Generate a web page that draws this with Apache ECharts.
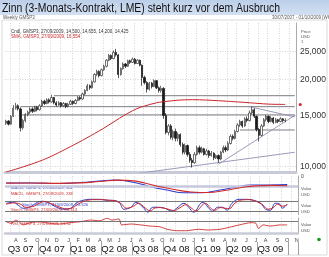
<!DOCTYPE html>
<html><head><meta charset="utf-8">
<script src="https://cdn.jsdelivr.net/npm/echarts@6/dist/echarts.min.js"></script>
<style>html,body{margin:0;padding:0;background:#fff;overflow:hidden}#c{width:329px;height:257px}</style>
</head><body><div id="c"></div>
<script>
// ---------- DATA ----------
const titleText = 'Zinn (3-Monats-Kontrakt, LME) steht kurz vor dem Ausbruch';
const weekCount = 122; // axis spans Jul 2007 .. end Oct 2009
const weeks = [];
for (let i = 0; i < weekCount; i++) {
  const d = new Date(Date.UTC(2007, 6, 2 + 7 * i));
  weeks.push(d.toISOString().slice(0, 10));
}
const monthLetters = ['J','F','M','A','M','J','J','A','S','O','N','D'];
const quarterNames = ['Q3 07','Q4 07','Q1 08','Q2 08','Q3 08','Q4 08','Q1 09','Q2 09','Q3 09'];
const priceTicks = [10000, 15000, 20000, 25000];

const open  = [14100,14350,14000,14900,15900,16200,15800,13600,14400,15100,15400,15800,15500,16000,15700,16200,16800,16500,17000,16700,17300,16600,16300,16600,16200,16500,16100,16400,16800,16500,16900,17300,17100,17800,18300,19000,18700,19600,20800,21300,20600,21600,22200,23300,24200,23600,24800,24300,20800,21800,22600,22200,23200,22900,23500,22700,23300,22400,20300,19500,18500,19400,18900,19800,18700,18300,18600,15000,13100,13800,12600,13200,12500,12900,11900,11200,11800,11000,10500,10300,11000,11600,11200,11500,11000,11300,10900,11100,10700,10900,10600,11200,11600,11400,12000,12700,12500,13200,13900,14300,13800,14600,14400,15300,15700,14900,13400,12800,13800,14500,14900,14300,14700,14200,14500,14300,14600,14400];
const close = [14350,14000,14900,15900,16200,15800,13600,14400,15100,15400,15800,15500,16000,15700,16200,16800,16500,17000,16700,17300,16600,16300,16600,16200,16500,16100,16400,16800,16500,16900,17300,17100,17800,18300,19000,18700,19600,20800,21300,20600,21600,22200,23300,24200,23600,24800,24300,20800,21800,22600,22200,23200,22900,23500,22700,23300,22400,20300,19500,18500,19400,18900,19800,18700,18300,18600,15000,13100,13800,12600,13200,12500,12900,11900,11200,11800,11000,10500,10300,11000,11600,11200,11500,11000,11300,10900,11100,10700,10900,10600,11200,11600,11400,12000,12700,12500,13200,13900,14300,13800,14600,14400,15300,15700,14900,13400,12800,13800,14500,14900,14300,14700,14200,14500,14300,14600,14400,14425];
const low   = [13900,13850,13950,14800,15700,15600,13200,13400,14200,14900,15200,15300,15400,15500,15600,16100,16300,16400,16500,16600,16400,16100,16200,16000,16100,15900,16000,16300,16300,16400,16800,16900,17000,17600,18200,18400,18600,19500,20500,20300,20500,21400,22000,23100,23300,23500,24000,20200,20600,21600,21900,22100,22600,22800,22500,22600,22200,19000,19200,18000,18300,18600,18800,18500,18000,18000,14600,12900,12800,12400,12300,12200,12200,11700,11000,11000,10800,10300,9900,10200,10900,11000,11100,10900,10900,10700,10800,10500,10600,10300,10500,11100,11200,11300,11900,12300,12400,13100,13700,13600,13700,14200,14300,15100,14700,13200,12200,12700,13700,14300,14100,14200,14000,14100,14100,14200,14200,14200];
const high  = [14500,14450,15050,16300,16600,16400,16000,14600,15300,15600,16000,16000,16200,16200,16400,17000,17000,17200,17200,17700,17400,16800,16800,16700,16700,16600,16600,17000,16900,17100,17500,17500,18000,18500,19300,19200,19800,21000,21600,21500,21800,22500,23500,24500,24400,25200,25500,24500,22000,22900,22800,23400,23400,23800,23700,23500,23400,22500,20600,19700,19600,19600,20000,19900,18900,19000,18800,15300,14000,14000,13400,13500,13100,13000,12100,12000,11900,11200,10700,11200,11800,11800,11700,11600,11500,11400,11300,11200,11000,11000,11300,11800,11800,12200,12900,12900,13400,14100,14500,14400,14800,14900,15600,16100,15900,15000,13600,14000,14700,15100,15000,14900,14800,14700,14600,14800,14700,14655];

// moving average (week index, value)
const smaPoints = [[0,9560],[14,10420],[25,11480],[39,13270],[53,15580],[60,16350],[66,16740],[78,17010],[89,16870],[102,16600],[110,16420],[117,16380]];

// chart-drawn lines (week index, price)
const resistanceLines = [ [[20,17560],[121,17560]], [[6,16090],[121,16090]], [[6,15070],[121,15070]], [[98,13360],[121,13360]] ];
const trendLines = [ [[56,9470],[121,11190]], [[89,10170],[121,15010]], [[102,16090],[121,14830]] ];

const macdLine   = [[0,1050],[10,1050],[22,900],[31,1200],[39,1650],[45,1950],[50,1650],[56,750],[60,-60],[67,-1050],[74,-1860],[81,-1860],[89,-1050],[95,-300],[102,450],[110,450],[117,561]];
const macdSignal = [[0,1000],[10,1050],[22,950],[31,1100],[39,1500],[47,1900],[52,1750],[58,1000],[63,100],[70,-900],[77,-1650],[84,-1800],[91,-1200],[97,-450],[104,200],[111,350],[117,238]];

const stochK = [[0,68],[3,74],[5,56],[7,38],[10,46],[13,74],[15,80],[18,68],[21,44],[24,32],[27,38],[29,68],[32,86],[35,92],[39,92],[42,86],[44,86],[47,74],[49,32],[52,44],[54,74],[57,44],[59,14],[61,44],[63,44],[66,38],[69,20],[71,38],[74,68],[76,44],[78,14],[81,68],[82,74],[84,44],[86,20],[88,44],[90,44],[92,26],[94,68],[97,92],[100,92],[103,86],[106,68],[108,32],[110,26],[112,68],[114,62],[115,38],[117,63.5]];
const stochD = [[0,62],[3,70],[6,62],[8,44],[11,48],[14,70],[16,78],[19,64],[22,46],[25,34],[28,44],[30,64],[33,82],[36,90],[40,90],[43,86],[45,84],[48,64],[50,38],[53,50],[55,68],[58,38],[60,22],[62,40],[64,42],[67,34],[70,24],[72,38],[75,60],[77,40],[79,22],[82,62],[83,68],[85,40],[87,26],[89,42],[91,38],[93,36],[95,66],[98,88],[101,90],[104,80],[107,56],[109,32],[111,40],[113,62],[115,50],[117,59]];

const rsi = [[0,69],[2,62],[4,76],[6,63],[7,55],[10,65],[14,69],[18,62],[22,59],[27,65],[31,69],[35,76],[39,73],[42,84],[44,76],[47,81],[48,55],[52,59],[56,55],[60,50],[64,47],[67,36],[71,30],[75,30],[80,36],[84,33],[89,36],[93,45],[97,55],[102,65],[104,62],[105,40],[107,55],[110,50],[114,55],[117,55]];

// ---------- HELPERS ----------
const F = 'Liberation Sans, Arial, sans-serif';
const dt = i => new Date(weeks[i] + 'T00:00:00Z');
function containsDay(i, day) {
  const a = dt(i), b = new Date(a.getTime() + 6 * 864e5);
  if (a.getUTCMonth() === b.getUTCMonth()) return a.getUTCDate() <= day && b.getUTCDate() >= day;
  return a.getUTCDate() <= day || b.getUTCDate() >= day;
}
function monthOfDay(i, day) {
  const a = dt(i), b = new Date(a.getTime() + 6 * 864e5);
  if (a.getUTCMonth() === b.getUTCMonth()) return a.getUTCMonth();
  return a.getUTCDate() <= day ? a.getUTCMonth() : b.getUTCMonth();
}
const isMonthStart = i => i > 0 && containsDay(i, 1);
const isMidMonth = i => containsDay(i, 16);
const isQuarterMid = i => containsDay(i, 15) && [1,4,7,10].includes(monthOfDay(i, 15));
const isQuarterSep = i => i > 0 && containsDay(i - 1, 1) && [0,3,6,9].includes(monthOfDay(i - 1, 1));
const qIndex = {}; { let k = 0; for (let i = 0; i < weekCount; i++) if (isQuarterMid(i)) qIndex[i] = quarterNames[k++]; }

const gridLine = { show: true, interval: (i) => isMidMonth(i), lineStyle: { color: '#c4c4c4', type: [1, 1.5], width: 0.7 } };
function xAx(g, extra) {
  return Object.assign({ type: 'category', gridIndex: g, data: weeks, boundaryGap: true, position: 'bottom',
    axisLine: { show: false }, axisTick: { show: false }, axisLabel: { show: false }, splitLine: gridLine }, extra || {});
}
function yAx(g, min, max, extra) {
  return Object.assign({ type: 'value', gridIndex: g, min, max, position: 'right',
    axisLine: { show: true, lineStyle: { color: '#999', width: 0.8 } }, axisTick: { show: false },
    axisLabel: { show: false }, splitLine: { show: false } }, extra || {});
}
const thin = (c, w) => ({ color: c, width: w });

const candleData = open.map((o, i) => [o, close[i], low[i], high[i]]);

const lineSeries = (xi, data, color, w, z) => ({ type: 'line', xAxisIndex: xi, yAxisIndex: xi, data, symbol: 'none',
  lineStyle: thin(color, w), silent: true, animation: false, z: z || 3, clip: true });

const series = [
  { type: 'candlestick', xAxisIndex: 0, yAxisIndex: 0, data: candleData, barWidth: 1.8, animation: false, z: 4,
    itemStyle: { color: '#ffffff', color0: '#1a1a1a', borderColor: '#333', borderColor0: '#111', borderWidth: 0.7 } },
  Object.assign(lineSeries(0, smaPoints, '#c8262b', 1, 5), { smooth: 0.4,
    markPoint: { symbol: 'circle', symbolSize: 3, silent: true, label: { show: false }, itemStyle: { color: '#d22' },
      data: [{ coord: smaPoints[smaPoints.length - 1], symbolOffset: [15, 0] }] } })
];
resistanceLines.forEach(l => series.push(lineSeries(0, l, '#6e6e78', 0.9, 3)));
trendLines.forEach(l => series.push(lineSeries(0, l, '#8d90b0', 0.9, 3)));
series.push(Object.assign(lineSeries(1, macdLine, '#2b3bd0', 1.1, 4), { smooth: 0.5,
  markLine: { symbol: 'none', silent: true, label: { show: false }, lineStyle: { color: '#c6c8dc', width: 2.5, type: 'solid' }, data: [{ yAxis: 0 }] } }));
series.push(Object.assign(lineSeries(1, macdSignal, '#d02a2a', 1.1, 5), { smooth: 0.5 }));
series.push(Object.assign(lineSeries(2, stochK, '#2b3bd0', 1, 4), { smooth: 0.4,
  markLine: { symbol: 'none', silent: true, label: { show: false }, lineStyle: { color: '#555', width: 0.8, type: 'solid' }, data: [{ yAxis: 80 }, { yAxis: 20 }] } }));
series.push(Object.assign(lineSeries(2, stochD, '#d02a2a', 1, 5), { smooth: 0.4 }));
series.push(Object.assign(lineSeries(3, rsi, '#d02a2a', 0.9, 4), { smooth: 0.2,
  markLine: { symbol: 'none', silent: true, label: { show: false }, lineStyle: { color: '#555', width: 0.8, type: 'solid' }, data: [{ yAxis: 70 }] } }));

const tiny = (t, x, y, color, size, extra) => ({ type: 'text', x: x, y: y, silent: true,
  style: Object.assign({ text: t, fill: color || '#333', font: (size || 4.5) + 'px ' + F }, extra || {}) });

const option = {
  backgroundColor: '#fff',
  animation: false,
  grid: [
    { left: 5, right: 31, top: 23, height: 149 },
    { left: 5, right: 31, top: 176, height: 21 },
    { left: 5, right: 31, top: 198, height: 16.5 },
    { left: 5, right: 31, top: 218, height: 15 }
  ],
  xAxis: [
    xAx(0, { axisLine: { show: true, onZero: false, lineStyle: { color: '#c9cad8', width: 3 } } }),
    xAx(1),
    xAx(2),
    xAx(3, { axisLine: { show: true, onZero: false, lineStyle: { color: '#c9cad8', width: 2.5 } },
      axisLabel: { show: true, interval: (i) => isMonthStart(i), margin: 4, fontSize: 5.5, fontFamily: F, color: '#444',
        formatter: (v, i) => monthLetters[monthOfDay(i, 1)] } }),
    xAx(3, { offset: 9, splitLine: { show: false },
      axisTick: { show: true, interval: (i) => isQuarterSep(i), length: 13, inside: false, lineStyle: { color: '#888', width: 0.8 } },
      axisLabel: { show: true, interval: (i) => isQuarterMid(i), margin: 2.5, fontSize: 9.5, fontFamily: F, color: '#111',
        formatter: (v, i) => qIndex[i] || '' } })
  ],
  yAxis: [
    { type: 'log', logBase: 10, gridIndex: 0, min: 9560, max: 31340, position: 'right',
      axisLine: { show: true, lineStyle: { color: '#999', width: 0.8 } },
      axisTick: { show: false, customValues: priceTicks },
      axisLabel: { show: true, customValues: priceTicks, margin: 4, fontSize: 8.5, fontFamily: F, color: '#333',
        formatter: v => Math.round(v).toLocaleString('en-US') },
      splitLine: { show: true, lineStyle: { color: '#c4c4c4', type: [1, 1.5], width: 0.7 } } },
    yAx(1, -3150, 3150),
    yAx(2, 0, 100),
    yAx(3, 20, 85)
  ],
  series,
  graphic: [
    { type: 'rect', x: 0, y: 0, silent: true, shape: { width: 329, height: 15 },
      style: { fill: new echarts.graphic.LinearGradient(0, 0, 0, 1, [{ offset: 0, color: '#bccfe9' }, { offset: 1, color: '#d3e0f2' }]) } },
    { type: 'text', x: 2, y: 1.5, scaleX: 0.8, silent: true, style: { text: titleText, fill: '#111', font: '13px ' + F } },
    { type: 'rect', x: 2, y: 20, silent: true, shape: { width: 325, height: 235 }, style: { fill: 'none', stroke: '#d0d0d0', lineWidth: 0.8 } },
    tiny('Weekly GMSP3', 3, 15.5, '#555', 4.5),
    tiny('30/07/2007 - 01/10/2009 [WK]', 272, 15.5, '#555', 4.5),
    tiny('Cndl, GMSP3, 27/09/2009, 14,500, 14,655, 14,200, 14,425', 11, 29.5, '#333', 4.5),
    tiny('SMA, GMSP3, 27/09/2009, 16,554', 11, 34, '#c8262b', 4.5),
    tiny('Price\nUSD\n1', 301, 29, '#555', 4.2, { lineHeight: 5 }),
    tiny('0', 301, 174, '#333', 5),
    tiny('MACD, GMSP3, 27/09/2009, 561', 11, 185.5, '#2b3bd0', 4.2),
    tiny('MACD, GMSP3, 27/09/2009, 238', 11, 191.5, '#d02a2a', 4.2),
    tiny('Stoch, GMSP3, 27/09/2009, 63.526', 22, 202.5, '#2b3bd0', 4.2),
    tiny('Stoch, GMSP3, 27/09/2009, 59.313', 11, 208, '#d02a2a', 4.2),
    tiny('RSI, GMSP3, 27/09/2009, 51.52', 11, 222, '#d02a2a', 4.2),
    tiny('Value\nUSD', 301, 185.5, '#555', 4.2, { lineHeight: 6 }),
    tiny('Value\nUSD', 301, 202.5, '#555', 4.2, { lineHeight: 6 }),
    tiny('Value\nUSD', 301, 221.5, '#555', 4.2, { lineHeight: 6 }),
    { type: 'circle', x: 319, y: 239.5, silent: true, shape: { r: 1.8 }, style: { fill: '#1a9a1a' } }
  ]
};
const chart = echarts.init(document.getElementById('c'));
chart.setOption(option);
</script></body></html>
